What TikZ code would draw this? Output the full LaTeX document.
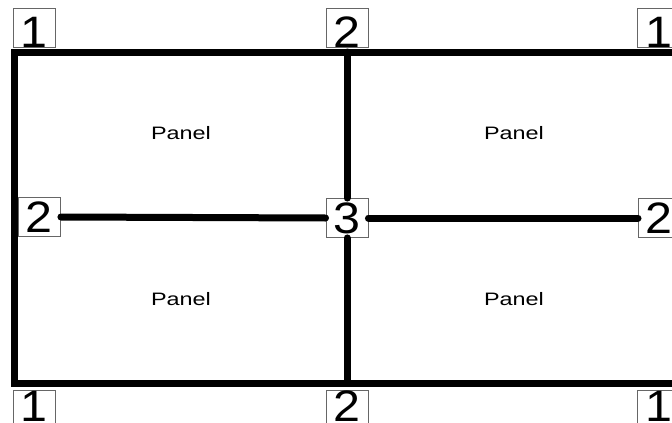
\documentclass[tikz,border=0pt]{standalone}
\usepackage{fontspec}
\setmainfont{Liberation Sans}
\newfontfamily\digitfont{Liberation Sans}[FakeStretch=1.1]
\newfontfamily\panelfont{Liberation Sans}[FakeStretch=1.3]
\usetikzlibrary{positioning}

\begin{document}
\begin{tikzpicture}[
  x=1pt, y=-1pt,
  tag/.style={draw=black!60, line width=0.9pt, rectangle, inner sep=0pt, minimum width=42pt, minimum height=39pt, font=\digitfont\fontsize{44}{44}\selectfont},
  tagtop/.style={tag, text height=39pt, text depth=0pt},
  tagbot/.style={tag, text height=31.5pt, text depth=7.5pt},
  panel/.style={font=\panelfont\fontsize{18}{18}\selectfont},
  frame/.style={line width=7pt, line join=miter},
  beam/.style={line width=7pt, line cap=round}
]
\useasboundingbox (0,0) rectangle (672,423);

\coordinate (c11) at (14,52);
\coordinate (c12) at (347,52);
\coordinate (c13) at (680,52);
\coordinate (c31) at (14,383);
\coordinate (c32) at (347,383);
\coordinate (c33) at (680,383);

\node[tagtop, anchor=south west] (t11) at (13,48) {1};
\node[tagtop, anchor=south] (t12) at (347,48) {2};
\node[tagtop, anchor=south east] (t13) at (680,48) {1};
\node[tag, anchor=west] (t21) at (18,217) {2};
\node[tag] (t22) at (347,218) {3};
\node[tag, anchor=west] (t23) at (638,218) {2};
\node[tagbot, anchor=north west] (t31) at (13,390) {1};
\node[tagbot, anchor=north] (t32) at (347,390) {2};
\node[tagbot, anchor=north east] (t33) at (680,390) {1};

\node[panel] (p11) at (181,133) {Panel};
\node[panel] (p12) at (514,133) {Panel};
\node[panel] (p21) at (181,299) {Panel};
\node[panel] (p22) at (514,299) {Panel};

\draw[frame] (c11) -- (c13) -- (c33) -- (c31) -- cycle;
\draw[beam] (c12) -- (t22.north);
\draw[beam] (t22.south) -- (c32);
\draw[beam] (t21.east) -- (t22.west);
\draw[beam] (t22.east) -- (t23.west);
\end{tikzpicture}
\end{document}
